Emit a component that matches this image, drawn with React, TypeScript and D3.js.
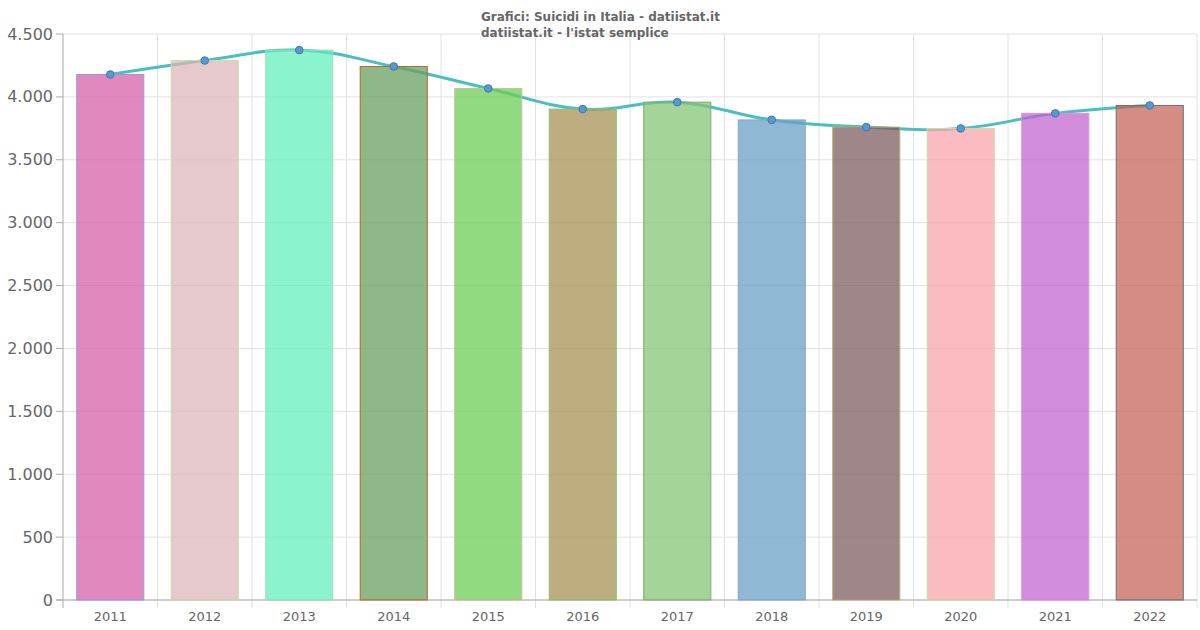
import * as d3 from 'd3';
import { useMemo } from 'react';

const years = ['2011', '2012', '2013', '2014', '2015', '2016', '2017', '2018', '2019', '2020', '2021', '2022'];
const suicides = [4178, 4289, 4372, 4242, 4067, 3903, 3958, 3817, 3760, 3749, 3869, 3932];
const barFills = [
    'rgba(214,92,166,0.72)',
    'rgba(220,180,186,0.72)',
    'rgba(94,238,186,0.72)',
    'rgba(106,160,98,0.75)',
    'rgba(108,206,84,0.75)',
    'rgba(168,146,84,0.75)',
    'rgba(130,196,112,0.72)',
    'rgba(106,160,198,0.75)',
    'rgba(122,88,90,0.72)',
    'rgba(250,166,172,0.75)',
    'rgba(192,96,206,0.72)',
    'rgba(196,96,84,0.72)',
];
const barStrokes = [
    '#8fa0d8', '#c8e0a0', '#a8d8c0', '#c0602f', '#c8c0a0', '#90c070',
    '#80a870', '#8aa8c0', '#b8b070', '#c8e0a0', '#e090e8', '#707070',
];
const yTicks = [0, 500, 1000, 1500, 2000, 2500, 3000, 3500, 4000, 4500];

const W = 1200;
const H = 630;
const left = 63;
const right = 1197;
const top = 34;
const bottom = 600;

const fmt = (v: number) => d3.format(',')(v).replace(/,/g, '.');

export default function App() {
    const { x, y, linePath } = useMemo(() => {
        const x = d3.scaleBand<string>().domain(years).range([left, right]).paddingInner(0.29).paddingOuter(0.145);
        const y = d3.scaleLinear().domain([0, 4500]).range([bottom, top]);
        const line = d3
            .line<number>()
            .x((_, i) => x(years[i])! + x.bandwidth() / 2)
            .y((d) => y(d))
            .curve(d3.curveCardinal.tension(-0.2));
        return { x, y, linePath: line(suicides) ?? '' };
    }, []);

    const step = (right - left) / years.length;

    return (
        <svg
            width={W}
            height={H}
            viewBox={`0 0 ${W} ${H}`}
            style={{ position: 'absolute', left: 0, top: 0, fontFamily: 'DejaVu Sans, sans-serif' }}
        >
            <rect width={W} height={H} fill="#fff" />
            {/* grid */}
            {yTicks.map((t) => (
                <line key={t} x1={left} x2={right} y1={y(t)} y2={y(t)} stroke="#e2e2e2" strokeWidth={1} />
            ))}
            {years.map((_, i) => (
                <line
                    key={i}
                    x1={left + step * (i + 1)}
                    x2={left + step * (i + 1)}
                    y1={top}
                    y2={bottom + 8}
                    stroke="#e2e2e2"
                    strokeWidth={1}
                />
            ))}
            {/* axes */}
            <line x1={left} x2={left} y1={top} y2={bottom + 8} stroke="#aaa" />
            <line x1={left - 7} x2={right} y1={bottom} y2={bottom} stroke="#aaa" />
            {yTicks.map((t) => (
                <g key={t}>
                    <line x1={left - 7} x2={left} y1={y(t)} y2={y(t)} stroke="#aaa" />
                    <text x={left - 10} y={y(t)} dy="0.35em" textAnchor="end" fontSize={16} fill="#666">
                        {fmt(t)}
                    </text>
                </g>
            ))}
            {years.map((yr) => (
                <text key={yr} x={x(yr)! + x.bandwidth() / 2} y={621} textAnchor="middle" fontSize={13} fill="#666">
                    {yr}
                </text>
            ))}
            {/* line behind bars */}
            <path d={linePath} fill="none" stroke="#4bbfbf" strokeWidth={3} />
            {/* bars */}
            {suicides.map((v, i) => (
                <rect
                    key={years[i]}
                    x={x(years[i])}
                    y={y(v)}
                    width={x.bandwidth()}
                    height={bottom - y(v)}
                    fill={barFills[i]}
                    stroke={barStrokes[i]}
                    strokeWidth={1}
                />
            ))}
            {/* points */}
            {suicides.map((v, i) => (
                <circle
                    key={years[i]}
                    cx={x(years[i])! + x.bandwidth() / 2}
                    cy={y(v)}
                    r={3.8}
                    fill="#5b98cc"
                    stroke="#3a78b0"
                    strokeWidth={1}
                />
            ))}
            {/* title */}
            <text x={481} y={21} fontSize={12} fontWeight="bold" fill="#666">
                Grafici: Suicidi in Italia - datiistat.it
            </text>
            <text x={481} y={37} fontSize={12} fontWeight="bold" fill="#666">
                datiistat.it - l'istat semplice
            </text>
        </svg>
    );
}
